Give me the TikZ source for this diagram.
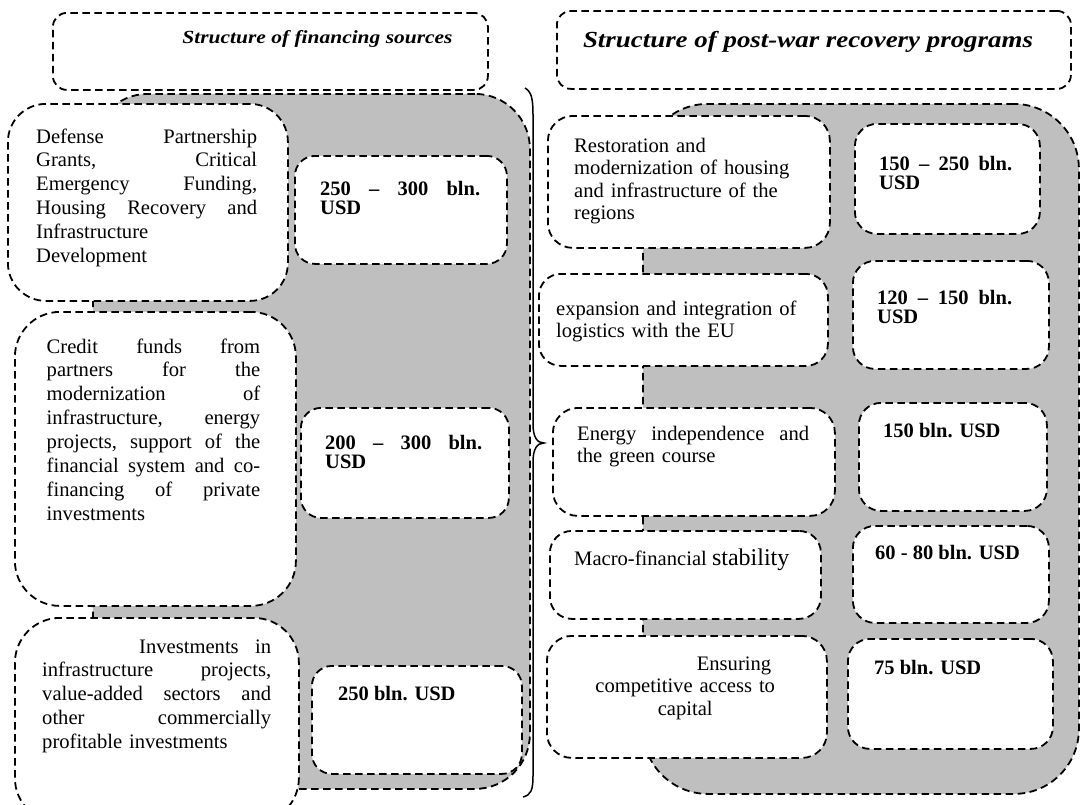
\documentclass[tikz,border=0pt]{standalone}
\usepackage{fontspec}
\setmainfont{Liberation Serif}
\definecolor{bgray}{RGB}{191,191,191}
\newcommand\jf{\hskip 0pt plus 1fill\relax}
\tikzset{
  dsh/.style={dash pattern=on 7.5pt off 4.5pt, line width=1.8pt},
  gbox/.style={dsh, draw=black, fill=bgray, inner sep=0pt, anchor=north west},
  wbox/.style={dsh, draw=black, fill=white, inner sep=0pt, anchor=north west},
  txt/.style={inner sep=0pt, anchor=base west, align=left, font=\fontsize{20.6}{23.9}\selectfont},
  rtxt/.style={txt, font=\fontsize{20.6}{22.6}\selectfont},
  val/.style={inner sep=0pt, anchor=base west, align=left, font=\fontsize{20.5}{19.5}\selectfont\bfseries},
  hdr/.style={inner sep=0pt, anchor=base, font=\bfseries\itshape},
}
\begin{document}
\begin{tikzpicture}[x=1pt,y=-1pt]
\useasboundingbox (0,0) rectangle (1083,804);
\clip (0,0) rectangle (1083,804);

% grey backgrounds
\node[gbox, rounded corners=55pt, minimum width=437pt, minimum height=695pt] (gl) at (92,93) {};
\node[gbox, rounded corners=65pt, minimum width=436pt, minimum height=690pt] (gr) at (642,103) {};

% headers
\node[wbox, rounded corners=14pt, minimum width=435pt, minimum height=77pt] (hl) at (52,12) {};
\node[wbox, rounded corners=14pt, minimum width=514pt, minimum height=78pt] (hr) at (556,10) {};
\node[hdr, font=\fontsize{18.5}{20}\selectfont\bfseries\itshape] (hlt) at (317.5,43) {\scalebox{1.16}[1]{Structure of financing sources}};
\node[hdr, font=\fontsize{23}{26}\selectfont\bfseries\itshape] (hrt) at (808,47) {\scalebox{1.17}[1]{Structure of post-war recovery programs}};

% left boxes
\node[wbox, rounded corners=38pt, minimum width=280pt, minimum height=197pt] (L1) at (7,103) {};
\node[wbox, rounded corners=20pt, minimum width=212pt, minimum height=108pt] (V1) at (294,155) {};
\node[wbox, rounded corners=45pt, minimum width=281pt, minimum height=294pt] (L2) at (14,311) {};
\node[wbox, rounded corners=20pt, minimum width=208pt, minimum height=110pt] (V2) at (300,407) {};
\node[wbox, rounded corners=45pt, minimum width=284pt, minimum height=205pt] (L3) at (14,617) {};
\node[wbox, rounded corners=20pt, minimum width=210pt, minimum height=108pt] (V3) at (311,665) {};

% right boxes
\node[wbox, rounded corners=25pt, minimum width=282pt, minimum height=132pt] (R1) at (547,115) {};
\node[wbox, rounded corners=22pt, minimum width=185pt, minimum height=110pt] (W1) at (854,123) {};
\node[wbox, rounded corners=22pt, minimum width=289pt, minimum height=92pt] (R2) at (538,273) {};
\node[wbox, rounded corners=22pt, minimum width=196pt, minimum height=108pt] (W2) at (852,260) {};
\node[wbox, rounded corners=25pt, minimum width=282pt, minimum height=108pt] (R3) at (552,407) {};
\node[wbox, rounded corners=22pt, minimum width=188pt, minimum height=108pt] (W3) at (858,402) {};
\node[wbox, rounded corners=22pt, minimum width=271pt, minimum height=88pt] (R4) at (549,530) {};
\node[wbox, rounded corners=22pt, minimum width=196pt, minimum height=97pt] (W4) at (852,525) {};
\node[wbox, rounded corners=25pt, minimum width=280pt, minimum height=122pt] (R5) at (546,635) {};
\node[wbox, rounded corners=22pt, minimum width=205pt, minimum height=110pt] (W5) at (847,638) {};

% left texts
\node[txt, text width=221pt] (L1t) at (36,143) {Defense\jf Partnership\\Grants,\jf Critical\\Emergency\jf Funding,\\Housing\jf Recovery\jf and\\Infrastructure\\Development};
\node[txt, text width=213.5pt] (L2t) at (46.5,353) {Credit\jf funds\jf from\\partners\jf for\jf the\\modernization\jf of\\infrastructure,\jf energy\\projects,\jf support\jf of\jf the\\financial\jf system\jf and\jf co-\\financing\jf of\jf private\\investments};
\node[txt, text width=229pt] (L3t) at (42,653) {\hspace*{97pt}Investments\jf in\\infrastructure\jf projects,\\value-added\jf sectors\jf and\\other\jf commercially\\profitable investments};
\node[val, text width=160pt] (V1t) at (320,195) {250\jf –\jf 300\jf bln.\\USD};
\node[val, text width=157pt] (V2t) at (325,449) {200\jf –\jf 300\jf bln.\\USD};
\node[val] (V3t) at (338,700) {250 bln. USD};

% right texts
\node[rtxt, text width=250pt] (R1t) at (574,152) {Restoration and\\modernization of housing\\and infrastructure of the\\regions};
\node[val, text width=133pt] (W1t) at (879,170) {150\jf –\jf 250\jf bln.\\USD};
\node[rtxt, text width=262pt] (R2t) at (556,315) {expansion and integration of\\logistics with the EU};
\node[val, text width=135pt] (W2t) at (877,304) {120\jf –\jf 150\jf bln.\\USD};
\node[rtxt, text width=232pt] (R3t) at (577,440) {Energy\jf independence\jf and\\the green course};
\node[val] (W3t) at (883,437) {150 bln. USD};
\node[rtxt] (R4t) at (574,565) {Macro-financial {\fontsize{24}{24}\selectfont stability}};
\node[val] (W4t) at (875,559) {60 - 80 bln. USD};
\node[rtxt, text width=200pt, align=center] (R5t) at (585,670) {\makebox[200pt][l]{\makebox[186pt][r]{Ensuring}}\\competitive access to\\capital};
\node[val] (W5t) at (874,674) {75 bln. USD};

% brace
\coordinate (bt) at (525,88);
\coordinate (bm) at (544,443);
\coordinate (bb) at (523,797);
\draw[line width=1.5pt] (bt) .. controls (532,92) and (533,100) .. (533,116) -- (533,424)
  .. controls (533,437) and (537,443) .. (bm)
  .. controls (537,443) and (533,449) .. (533,462) -- (533,776)
  .. controls (533,790) and (531,795) .. (bb);
\end{tikzpicture}
\end{document}
